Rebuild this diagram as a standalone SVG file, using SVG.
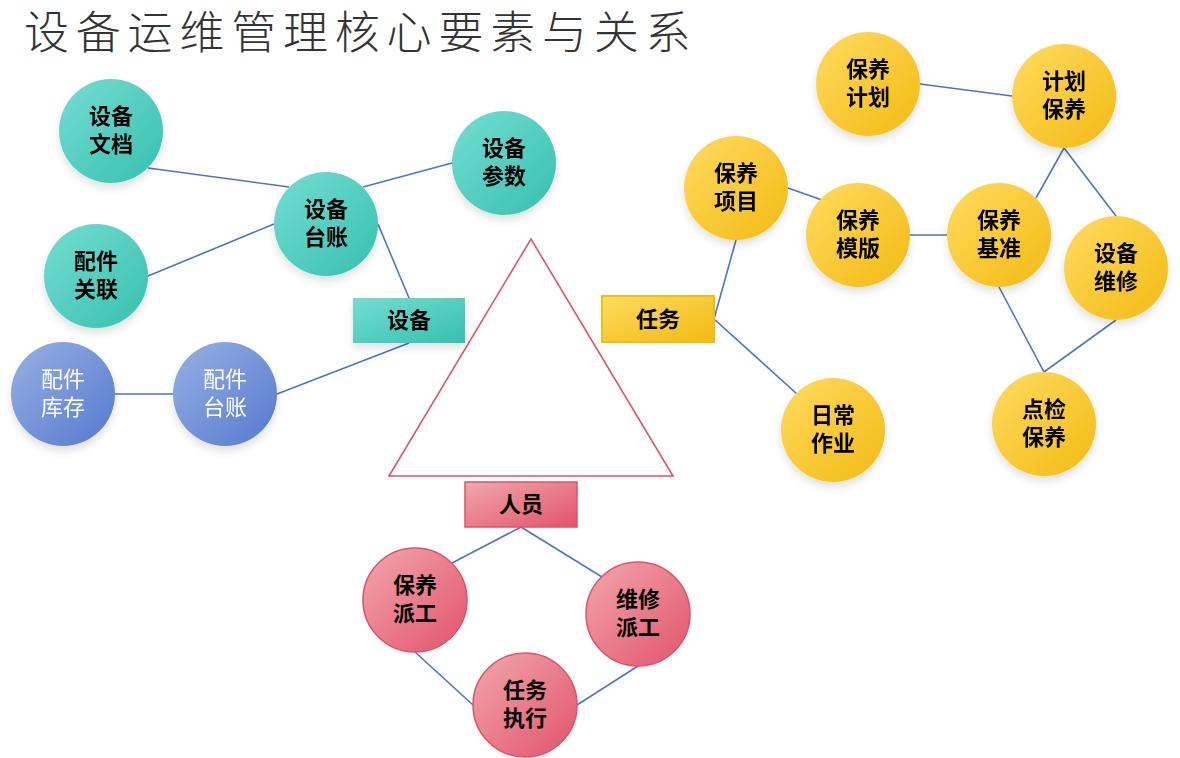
<svg xmlns="http://www.w3.org/2000/svg" width="1180" height="758" viewBox="0 0 1180 758">
<defs>
<linearGradient id="gT" x1="0" y1="0" x2="1" y2="1"><stop offset="0" stop-color="#74ddd3"/><stop offset="1" stop-color="#36c0ae"/></linearGradient>
<linearGradient id="gY" x1="0" y1="0" x2="1" y2="1"><stop offset="0" stop-color="#ffdb60"/><stop offset="1" stop-color="#f3ba12"/></linearGradient>
<linearGradient id="gP" x1="0" y1="0" x2="1" y2="1"><stop offset="0" stop-color="#f2a7ad"/><stop offset="1" stop-color="#e2536a"/></linearGradient>
<linearGradient id="gB" x1="0" y1="0" x2="1" y2="1"><stop offset="0" stop-color="#98b0e4"/><stop offset="1" stop-color="#5579cf"/></linearGradient>
<filter id="sh" x="-30%" y="-30%" width="160%" height="170%">
<feGaussianBlur in="SourceAlpha" stdDeviation="4"/>
<feOffset dx="0" dy="5" result="b"/>
<feFlood flood-color="#000" flood-opacity="0.12"/>
<feComposite in2="b" operator="in"/>
<feMerge><feMergeNode/><feMergeNode in="SourceGraphic"/></feMerge>
</filter>
</defs>
<style>
.t{font-family:"Noto Sans CJK SC","Noto Sans",sans-serif;font-size:22px;font-weight:700;fill:#000;text-anchor:middle}
.w{fill:#fff;font-weight:400}
.ln{stroke:#4a74cf;stroke-width:1.6;fill:none}
.cT{fill:url(#gT)}
.cY{fill:url(#gY)}
.cP{fill:url(#gP);stroke:#e0506a;stroke-width:1.5}
.cB{fill:url(#gB)}
.title{font-family:"Noto Sans CJK SC",sans-serif;font-size:45px;font-weight:300;fill:#333;letter-spacing:6.8px}
</style>
<rect width="1180" height="758" fill="#fff"/>
<text class="title" x="24" y="49">设备运维管理核心要素与关系</text>
<polygon points="531,239 389,476 673,476" fill="none" stroke="#e25365" stroke-width="1.6"/>
<g id="connectors">
<line class="ln" x1="148" y1="168" x2="289" y2="187"/>
<line class="ln" x1="452" y1="163" x2="363" y2="187"/>
<line class="ln" x1="148" y1="276" x2="274" y2="224"/>
<line class="ln" x1="378" y1="224" x2="409" y2="298"/>
<line class="ln" x1="409" y1="343" x2="277" y2="394"/>
<line class="ln" x1="115" y1="394" x2="173" y2="394"/>
<polyline class="ln" points="736,240 714,319 797,394"/>
<line class="ln" x1="788" y1="188" x2="822" y2="200"/>
<line class="ln" x1="910" y1="235" x2="947" y2="235"/>
<line class="ln" x1="920" y1="84" x2="1012" y2="96"/>
<polyline class="ln" points="1036,198 1064,148 1116,216"/>
<polyline class="ln" points="999,287 1044,372 1116,320"/>
<polyline class="ln" points="452,563 521,527 602,577"/>
<polyline class="ln" points="415,652 473,705"/>
<polyline class="ln" points="638,666 577,705"/>
</g>
<g id="n-doc" filter="url(#sh)"><circle class="cT" cx="111" cy="131" r="52"/><text class="t" x="111" y="124">设备</text><text class="t" x="111" y="152">文档</text></g>
<g id="n-ledger" filter="url(#sh)"><circle class="cT" cx="326" cy="224" r="52"/><text class="t" x="326" y="217">设备</text><text class="t" x="326" y="245">台账</text></g>
<g id="n-param" filter="url(#sh)"><circle class="cT" cx="504" cy="163" r="52"/><text class="t" x="504" y="156">设备</text><text class="t" x="504" y="184">参数</text></g>
<g id="n-partrel" filter="url(#sh)"><circle class="cT" cx="96" cy="276" r="52"/><text class="t" x="96" y="269">配件</text><text class="t" x="96" y="297">关联</text></g>
<g id="n-stock" filter="url(#sh)"><circle class="cB" cx="63" cy="394" r="52"/><text class="t w" x="63" y="387">配件</text><text class="t w" x="63" y="415">库存</text></g>
<g id="n-partledger" filter="url(#sh)"><circle class="cB" cx="225" cy="394" r="52"/><text class="t w" x="225" y="387">配件</text><text class="t w" x="225" y="415">台账</text></g>
<g id="n-equip" filter="url(#sh)"><rect class="cT" x="353" y="298" width="112" height="45"/><text class="t" x="409" y="328">设备</text></g>
<g id="n-task"><rect class="cY" x="602" y="296" width="112" height="46" stroke="#f0be10" stroke-width="2"/><text class="t" x="658" y="327">任务</text></g>
<g id="n-staff"><rect class="cP" x="465" y="482" width="112" height="45"/><text class="t" x="521" y="512">人员</text></g>
<g id="n-mplan" filter="url(#sh)"><circle class="cY" cx="868" cy="84" r="52"/><text class="t" x="868" y="77">保养</text><text class="t" x="868" y="105">计划</text></g>
<g id="n-planm" filter="url(#sh)"><circle class="cY" cx="1064" cy="96" r="52"/><text class="t" x="1064" y="89">计划</text><text class="t" x="1064" y="117">保养</text></g>
<g id="n-mitem" filter="url(#sh)"><circle class="cY" cx="736" cy="188" r="52"/><text class="t" x="736" y="181">保养</text><text class="t" x="736" y="209">项目</text></g>
<g id="n-mtpl" filter="url(#sh)"><circle class="cY" cx="858" cy="235" r="52"/><text class="t" x="858" y="228">保养</text><text class="t" x="858" y="256">模版</text></g>
<g id="n-mstd" filter="url(#sh)"><circle class="cY" cx="999" cy="235" r="52"/><text class="t" x="999" y="228">保养</text><text class="t" x="999" y="256">基准</text></g>
<g id="n-repair" filter="url(#sh)"><circle class="cY" cx="1116" cy="268" r="52"/><text class="t" x="1116" y="261">设备</text><text class="t" x="1116" y="289">维修</text></g>
<g id="n-daily" filter="url(#sh)"><circle class="cY" cx="833" cy="430" r="52"/><text class="t" x="833" y="423">日常</text><text class="t" x="833" y="451">作业</text></g>
<g id="n-inspect" filter="url(#sh)"><circle class="cY" cx="1044" cy="424" r="52"/><text class="t" x="1044" y="417">点检</text><text class="t" x="1044" y="445">保养</text></g>
<g id="n-mdisp"><circle class="cP" cx="415" cy="600" r="52"/><text class="t" x="415" y="593">保养</text><text class="t" x="415" y="621">派工</text></g>
<g id="n-rdisp"><circle class="cP" cx="638" cy="614" r="52"/><text class="t" x="638" y="607">维修</text><text class="t" x="638" y="635">派工</text></g>
<g id="n-exec"><circle class="cP" cx="525" cy="705" r="52"/><text class="t" x="525" y="698">任务</text><text class="t" x="525" y="726">执行</text></g>
</svg>
